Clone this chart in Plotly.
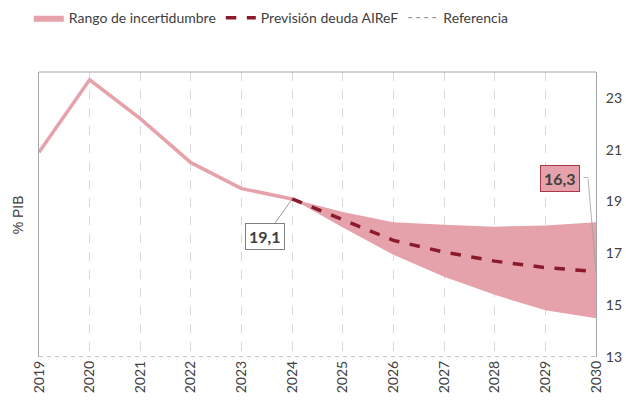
import plotly.graph_objects as go

years_hist = [2019, 2020, 2021, 2022, 2023, 2024]
debt_hist = [20.9, 23.7, 22.2, 20.5, 19.5, 19.1]

years_fc = [2024, 2025, 2026, 2027, 2028, 2029, 2030]
central = [19.1, 18.3, 17.5, 17.05, 16.7, 16.45, 16.3]
upper = [19.1, 18.6, 18.2, 18.1, 18.03, 18.08, 18.2]
lower = [19.1, 18.0, 16.95, 16.1, 15.4, 14.8, 14.5]

years_all = list(range(2019, 2031))
reference = [13] * len(years_all)

PINK = "#e5a2aa"
DARK = "#8b1a2b"
TXT = "#404040"
FONT = "Lato"

fig = go.Figure()

fig.add_trace(go.Scatter(x=years_fc, y=lower, mode="lines", line=dict(width=0, color=PINK),
                         showlegend=False, hoverinfo="skip"))
fig.add_trace(go.Scatter(x=years_fc, y=upper, mode="lines", line=dict(width=0, color=PINK),
                         fill="tonexty", fillcolor=PINK, name="Rango de incertidumbre"))
fig.add_trace(go.Scatter(x=years_hist, y=debt_hist, mode="lines", line=dict(width=3.5, color=PINK),
                         showlegend=False))
fig.add_trace(go.Scatter(x=years_fc, y=central, mode="lines",
                         line=dict(width=3.5, color=DARK, dash="dash"),
                         name="Previsión deuda AIReF"))
fig.add_trace(go.Scatter(x=years_all, y=reference, mode="lines",
                         line=dict(width=1, color="#808080", dash="4px,4px"),
                         name="Referencia"))

fig.add_annotation(x=years_hist[-1], y=debt_hist[-1], text="<b>19,1</b>",
                   showarrow=True, arrowhead=0, arrowwidth=0.8, arrowcolor="#808080",
                   ax=-27, ay=38, bgcolor="white", bordercolor="#808080", borderwidth=1,
                   borderpad=3, font=dict(family=FONT, size=16, color=TXT))
# label box for final value (arrow hidden; connector drawn below as an elbow)
fig.add_annotation(x=years_fc[-1], y=central[-1], text="<b>16,3</b>",
                   showarrow=True, arrowhead=0, arrowwidth=0.5, arrowcolor="rgba(0,0,0,0)",
                   ax=-36, ay=-93, bgcolor=PINK, bordercolor="#a8384a", borderwidth=1,
                   borderpad=3, font=dict(family=FONT, size=16, color=TXT))
fig.add_annotation(x=years_fc[-1], y=central[-1], text="", showarrow=True, arrowhead=0,
                   arrowwidth=0.8, arrowcolor="#a0a0a0", ax=-8, ay=-94)
fig.add_annotation(x=years_fc[-1], y=central[-1], text="", showarrow=True, arrowhead=0,
                   arrowwidth=0.8, arrowcolor="#a0a0a0", ax=-6, ay=0, xshift=-8, yshift=94)

fig.add_shape(type="line", xref="paper", yref="paper", x0=0, x1=1, y0=1, y1=1,
              line=dict(color="#a6a6a6", width=1))

fig.update_layout(
    width=626, height=401,
    margin=dict(l=39, r=30, t=72, b=44, autoexpand=False),
    plot_bgcolor="white", paper_bgcolor="white",
    font=dict(family=FONT, size=14, color=TXT),
    legend=dict(orientation="h", xref="container", yref="container",
                x=0.046, y=0.955, xanchor="left", yanchor="middle",
                font=dict(family=FONT, size=14, color=TXT), itemwidth=30,
                traceorder="normal"),
    xaxis=dict(range=[2019, 2030], tickmode="array", tickvals=years_all,
               ticktext=[str(y) for y in years_all], tickangle=-90,
               showgrid=True, gridcolor="#d9d9d9", griddash="dash", gridwidth=1,
               showline=False, zeroline=False, ticks="", automargin=False,
               tickfont=dict(family=FONT, size=14, color=TXT)),
    yaxis=dict(range=[13, 24], tickvals=[13, 15, 17, 19, 21, 23], side="right",
               showgrid=False, zeroline=False, showline=True, mirror=True,
               linecolor="#a6a6a6", linewidth=1, ticks="", automargin=False,
               ticklabelstandoff=6,
               tickfont=dict(family=FONT, size=14, color=TXT)),
    showlegend=True,
)

fig.add_annotation(xref="paper", yref="paper", x=-0.038, y=0.5, text="% PIB",
                   textangle=-90, showarrow=False, xanchor="center", yanchor="middle",
                   font=dict(family="Liberation Sans", size=14, color=TXT))

fig.write_html("out.html", post_script="document.body.style.margin='0';",
               config={"displayModeBar": False})
